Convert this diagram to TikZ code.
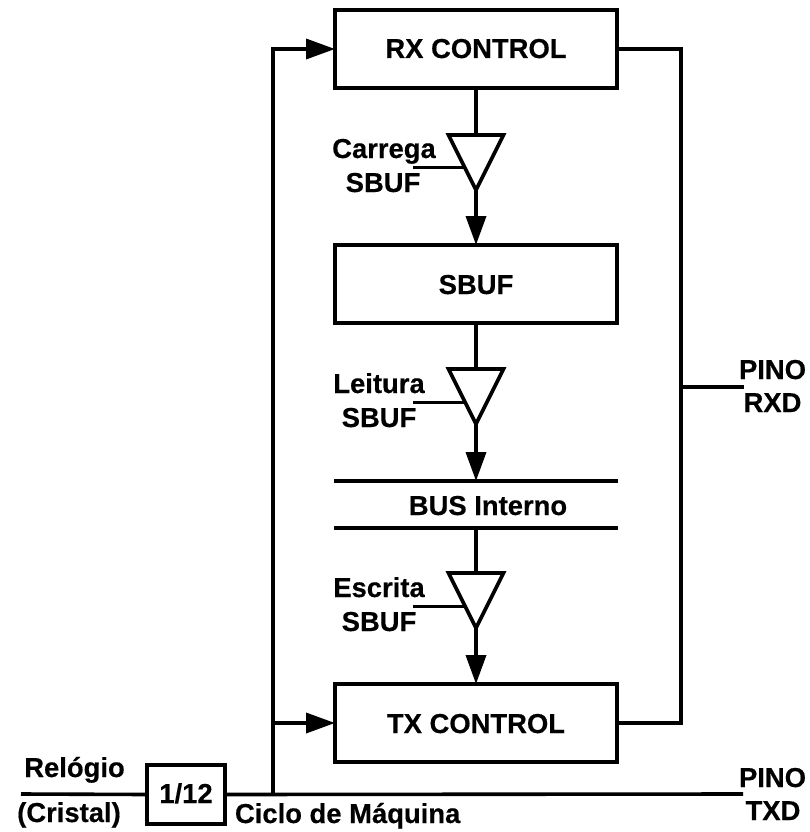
\documentclass[tikz,border=0pt]{standalone}
\usepackage{fontspec}
\setmainfont[BoldFeatures={FakeBold=0.4}]{Liberation Sans}
\usetikzlibrary{arrows.meta,shapes.geometric}
\tikzset{
  wire/.style={line width=3.6pt},
  arrowwire/.style={wire,-{Triangle[length=29pt,width=20pt]}},
  blockbox/.style={draw,line width=3.8pt,minimum width=282pt,minimum height=78pt,inner sep=0pt,outer sep=0pt},
  divbox/.style={draw,line width=3.8pt,minimum width=78pt,minimum height=59pt,inner sep=0pt,outer sep=0pt},
  buffer/.style={draw,fill=white,line width=3.6pt,isosceles triangle,isosceles triangle apex angle=53.13,isosceles triangle stretches,shape border rotate=-90,minimum width=55pt,minimum height=55pt,inner sep=0pt,outer sep=0pt,anchor=apex},
  label/.style={inner sep=0pt,outer sep=0pt,anchor=base},
  every node/.append style={font=\fontsize{27.4}{30}\selectfont\bfseries}
}
\begin{document}
\begin{tikzpicture}[x=1pt,y=-1pt]
\useasboundingbox (0,0) rectangle (810,832);
% blocks
\node[blockbox] (rx) at (476,49) {};
\node[label] (rxt) at (476,58) {RX CONTROL};
\node[blockbox] (sbuf) at (476,284) {};
\node[label] (sbuft) at (476,294) {SBUF};
\node[blockbox] (tx) at (476,723) {};
\node[label] (txt) at (476,733) {TX CONTROL};
\node[divbox] (div) at (186,794.5) {};
\node[label] (divt) at (186,803) {1/12};
% buffers
\node[buffer] (b1) at (476,190) {};
\node[buffer] (b2) at (476,424) {};
\node[buffer] (b3) at (476,628) {};
% named points
\coordinate (c1) at (413,167); \coordinate (c1e) at (465,167);
\coordinate (c2) at (413,402); \coordinate (c2e) at (465,402);
\coordinate (c3) at (413,606); \coordinate (c3e) at (465,606);
\coordinate (busAl) at (334,481); \coordinate (busAr) at (618,481);
\coordinate (busBl) at (334,528); \coordinate (busBr) at (618,528);
\coordinate (busAm) at (476,481); \coordinate (busBm) at (476,528);
\coordinate (clkin) at (21,794);
\coordinate (jn) at (273,794);
\coordinate (jntop) at (273,49);
\coordinate (jnmid) at (273,723);
\coordinate (txd) at (743,794);
\coordinate (rr) at (681,49);
\coordinate (rb) at (681,723);
\coordinate (rm) at (681,387);
\coordinate (rxd) at (744,387);
% bus
\draw[wire] (busAl) -- (busAr);
\draw[wire] (busBl) -- (busBr);
% vertical path
\draw[wire] (rx.south) -- (b1.north);
\draw[arrowwire] (b1.apex) -- (sbuf.north);
\draw[wire] (sbuf.south) -- (b2.north);
\draw[arrowwire] (b2.apex) -- (busAm);
\draw[wire] (busBm) -- (b3.north);
\draw[arrowwire] (b3.apex) -- (tx.north);
% control lines
\draw[line width=3pt] (c1) -- (c1e);
\draw[line width=3pt] (c2) -- (c2e);
\draw[line width=3pt] (c3) -- (c3e);
% clock
\draw[wire] (clkin) -- (div.west);
\draw[wire] (div.east) -- (txd);
\draw[arrowwire] (jn) -- (jntop) -- (rx.west);
\draw[arrowwire] (jnmid) -- (tx.west);
% right side
\draw[wire] (rx.east) -- (rr) -- (rb) -- (tx.east);
\draw[wire] (rm) -- (rxd);
% labels
\node[label] (l1) at (384,158) {Carrega};
\node[label] (l1b) at (383,192) {SBUF};
\node[label] (l2) at (379,393) {Leitura};
\node[label] (l2b) at (379,427) {SBUF};
\node[label] (bus) at (488,515) {BUS Interno};
\node[label] (l3) at (379,597) {Escrita};
\node[label] (l3b) at (379,631) {SBUF};
\node[label] (prx1) at (772.5,379) {PINO};
\node[label] (prx2) at (772.5,412) {RXD};
\node[label] (ptx1) at (772.5,787) {PINO};
\node[label] (ptx2) at (773,820) {TXD};
\node[label] (rel) at (74.5,777) {Relógio};
\node[label] (cri) at (69,822) {(Cristal)};
\node[label,anchor=base west] (cic) at (235,823) {Ciclo de Máquina};
\end{tikzpicture}
\end{document}
